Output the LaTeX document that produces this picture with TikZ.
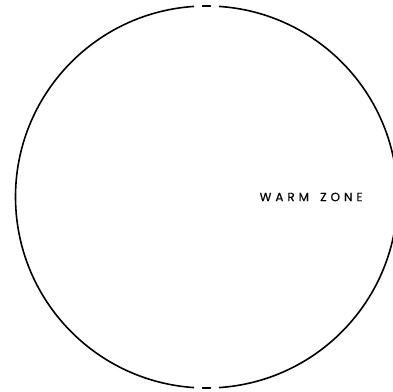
\documentclass[tikz,border=0pt]{standalone}
\usepackage{fontspec}
\usetikzlibrary{calc}
\newfontfamily\labelfont[LetterSpace=33,FakeBold=0.4]{Poppins}
\begin{document}
\begin{tikzpicture}[x=1pt,y=1pt,
  ring/.style={line width=1.6pt, black},
  zonelabel/.style={font=\labelfont\fontsize{12}{13}\selectfont, inner sep=0pt, anchor=west}]
\useasboundingbox (0,0) rectangle (393,391);
\coordinate (c) at (206.5,194);
\def\R{191}
\draw[ring] ($(c)+(93.75:\R)$) arc[start angle=93.75, end angle=266.25, radius=\R];
\draw[ring] ($(c)+(-86.25:\R)$) arc[start angle=-86.25, end angle=86.25, radius=\R];
\draw[ring] ($(c)+(91.35:\R)$) arc[start angle=91.35, end angle=88.65, radius=\R];
\draw[ring] ($(c)+(268.65:\R)$) arc[start angle=268.65, end angle=271.35, radius=\R];
\node[zonelabel] (warm) at (259.5,194) {WARM\ \kern4pt ZONE};
\end{tikzpicture}
\end{document}
